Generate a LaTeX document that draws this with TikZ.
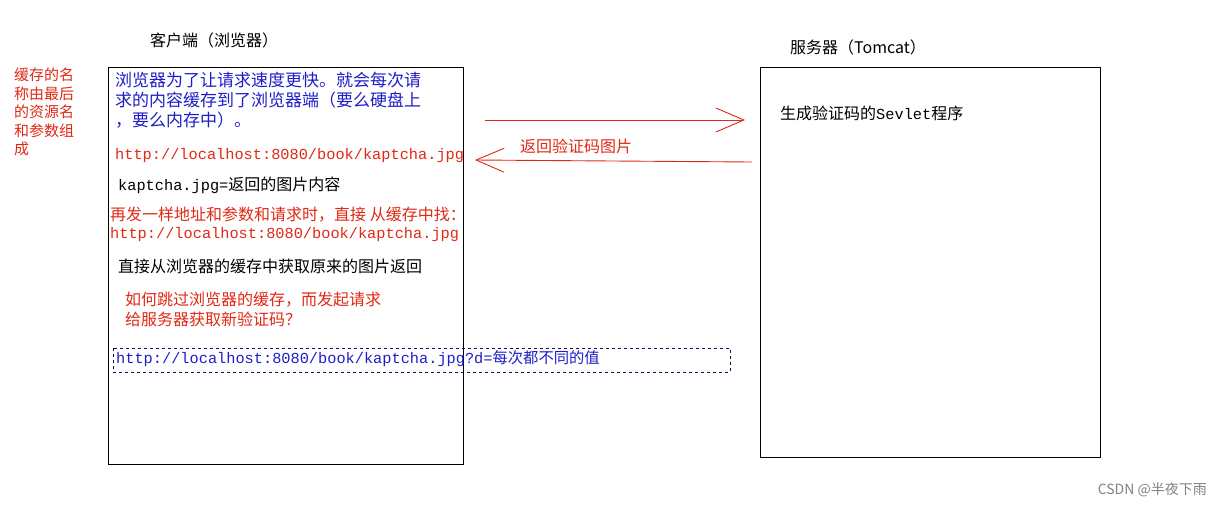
\documentclass[tikz,border=0pt]{standalone}
\usepackage{fontspec}
\usetikzlibrary{arrows.meta}
\newfontfamily\cjk{Noto Sans CJK SC}
\newfontfamily\latn{Liberation Mono}
\definecolor{txtred}{RGB}{225,40,20}
\definecolor{txtblue}{RGB}{30,30,200}
\tikzset{
  box/.style={draw=black, line width=0.9pt},
  cn/.style={anchor=west, inner sep=0pt, font=\cjk\fontsize{16}{20}\selectfont},
  url/.style={anchor=west, inner sep=0pt, font=\latn\fontsize{15.3}{19}\selectfont},
  flow/.style={draw=txtred, line width=0.9pt, -{Straight Barb[length=28pt,width=24pt,line width=0.9pt]}}
}
\begin{document}
\begin{tikzpicture}[x=1pt,y=-1pt]
  \useasboundingbox (0,0) rectangle (1222,509);
  % boxes
  \draw[box] (108,67) rectangle (463,464);
  \draw[box] (760,67) rectangle (1100,457);
  \node[cn] (client) at (150,40) {客户端（浏览器）};
  \node[cn] (server) at (790,47) {服务器（Tomcat）};
  % left note
  \node[cn, text=txtred, align=left, font=\cjk\fontsize{15}{18.5}\selectfont, anchor=north west] (note) at (14,68)
    {缓存的名\\称由最后\\的资源名\\和参数组\\成};
  % client side
  \node[cn, text=txtblue, align=left, anchor=north west, font=\cjk\fontsize{17}{20}\selectfont] (cache) at (115,72)
    {浏览器为了让请求速度更快。就会每次请\\求的内容缓存到了浏览器端（要么硬盘上\\，要么内存中）。};
  \node[url, text=txtred] (url1) at (115,156) {http://localhost:8080/book/kaptcha.jpg};
  \node[cn] (content) at (118,185) {{\latn\fontsize{15.3}{19}\selectfont kaptcha.jpg=}返回的图片内容};
  \node[cn, text=txtred] (again) at (110,215) {再发一样地址和参数和请求时，直接 从缓存中找：};
  \node[url, text=txtred] (url2) at (110,235) {http://localhost:8080/book/kaptcha.jpg};
  \node[cn] (direct) at (118,266) {直接从浏览器的缓存中获取原来的图片返回};
  \node[cn, text=txtred, align=left, anchor=north west] (skip) at (125,292)
    {如何跳过浏览器的缓存，而发起请求\\给服务器获取新验证码？};
  \draw[txtblue!40!black, dashed, line width=0.8pt] (113,348) rectangle (730,372);
  \node[url, text=txtblue] (url3) at (116,359)
    {http://localhost:8080/book/kaptcha.jpg?d={\cjk 每次都不同的值}};
  % server side
  \node[cn] (servlet) at (780,113) {生成验证码的{\latn\fontsize{15.3}{19}\selectfont Sevlet}程序};
  % arrows
  \coordinate (reqA) at (485,120);
  \coordinate (reqB) at (745,120);
  \coordinate (resA) at (752,162);
  \coordinate (resB) at (475,160);
  \draw[flow] (reqA) -- (reqB);
  \draw[flow] (resA) -- (resB);
  \node[cn, text=txtred] (back) at (520,146) {返回验证码图片};
  \node[anchor=east, inner sep=0pt, text=gray, font=\cjk\fontsize{14}{16}\selectfont] (csdn) at (1207,490) {CSDN @半夜下雨};
\end{tikzpicture}
\end{document}
